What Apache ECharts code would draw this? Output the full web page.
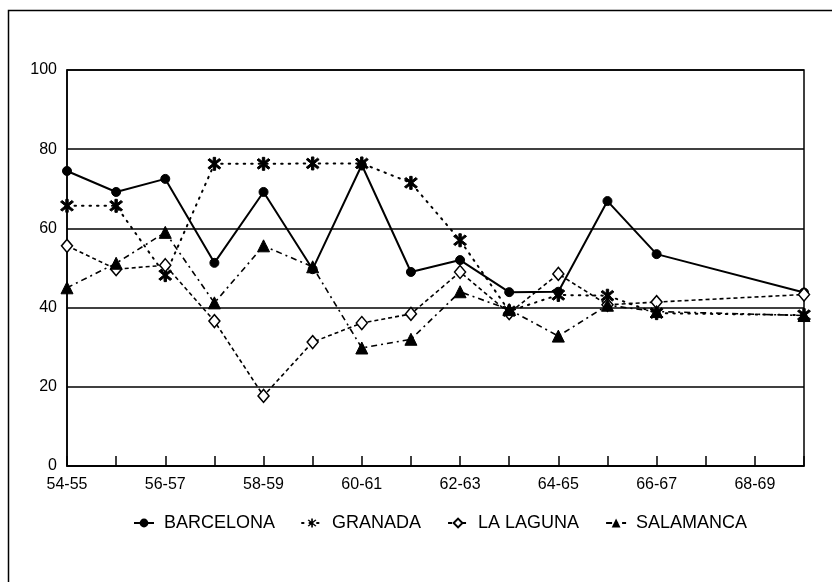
<!DOCTYPE html>
<html>
<head>
<meta charset="utf-8">
<script src="https://cdn.jsdelivr.net/npm/echarts@6/dist/echarts.min.js"></script>
<style>html,body{margin:0;padding:0;background:#fff}#c{width:832px;height:582px}</style>
</head>
<body>
<div id="c"></div>
<script>
var categories = ['54-55','55-56','56-57','57-58','58-59','59-60','60-61','61-62','62-63','63-64','64-65','65-66','66-67','67-68','68-69','69-70'];
var barcelona = [74.5, 69.2, 72.5, 51.3, 69.2, 49.7, 76, 49, 52, 43.9, 44, 66.9, 53.5, null, null, 43.8];
var granada   = [65.7, 65.7, 48.2, 76.3, 76.3, 76.4, 76.4, 71.5, 57, 39.1, 43.2, 43, 38.6, null, null, 38.1];
var laLaguna  = [55.6, 49.7, 50.7, 36.6, 17.7, 31.3, 36.1, 38.4, 49, 38.6, 48.5, 40.7, 41.4, null, null, 43.3];
var salamanca = [45, 51.2, 59, 41.2, 55.6, 50.3, 29.8, 32, 44, 39.5, 32.8, 40.6, 39, null, null, 38];
var yTicks = [0, 20, 40, 60, 80, 100];

var starPath = 'path://M-1.5,-10L1.5,-10L1.5,10L-1.5,10Z' +
  'M-8.13,-6.01L-6.01,-8.13L8.13,6.01L6.01,8.13Z' +
  'M-6.01,8.13L-8.13,6.01L6.01,-8.13L8.13,-6.01Z';

var chart = echarts.init(document.getElementById('c'), null, {renderer: 'canvas'});
var font = '"Liberation Sans", Arial, sans-serif';
chart.setOption({
  animation: false,
  backgroundColor: '#fff',
  graphic: [{
    type: 'rect', left: 6, top: 8,
    shape: {x: 0, y: 0, width: 900, height: 700},
    style: {fill: 'none', stroke: '#000', lineWidth: 1.5},
    silent: true
  }],
  grid: {left: 67, right: 28, top: 70, bottom: 116, show: true, borderColor: '#000', borderWidth: 1.5, backgroundColor: 'transparent'},
  legend: {
    left: 128, top: 509,
    itemWidth: 20, itemHeight: 11, itemGap: 26,
    textStyle: {fontFamily: font, fontSize: 18, color: '#000', padding: [0, 0, 0, 5]},
    data: ['BARCELONA', 'GRANADA', 'LA LAGUNA', 'SALAMANCA']
  },
  xAxis: {
    type: 'category', data: categories, boundaryGap: false,
    axisLine: {lineStyle: {color: '#000', width: 1.5}},
    axisTick: {show: true, inside: true, length: 10, interval: 0, lineStyle: {color: '#000', width: 1.5}},
    axisLabel: {interval: 1, color: '#000', fontFamily: font, fontSize: 16, margin: 11},
    splitLine: {show: false}
  },
  yAxis: {
    type: 'value', min: yTicks[0], max: yTicks[yTicks.length - 1], interval: 20,
    axisLine: {show: true, lineStyle: {color: '#000', width: 1.5}},
    axisTick: {show: false},
    axisLabel: {color: '#000', fontFamily: font, fontSize: 16, margin: 10},
    splitLine: {show: true, lineStyle: {color: '#000', width: 1.5}}
  },
  series: [
    {
      name: 'BARCELONA', type: 'line', data: barcelona, connectNulls: true,
      symbol: 'circle', symbolSize: 9,
      lineStyle: {color: '#000', width: 2, type: 'solid'},
      itemStyle: {color: '#000', borderColor: '#000'}
    },
    {
      name: 'GRANADA', type: 'line', data: granada, connectNulls: true,
      symbol: starPath, symbolSize: 13,
      lineStyle: {color: '#000', width: 2, type: [1.5, 6], cap: 'round'},
      itemStyle: {color: '#000', borderColor: '#000'}
    },
    {
      name: 'LA LAGUNA', type: 'line', data: laLaguna, connectNulls: true,
      symbol: 'diamond', symbolSize: [11, 13],
      lineStyle: {color: '#000', width: 1.6, type: [4, 3]},
      itemStyle: {color: '#fff', borderColor: '#000', borderWidth: 1.5}
    },
    {
      name: 'SALAMANCA', type: 'line', data: salamanca, connectNulls: true,
      symbol: 'triangle', symbolSize: 12,
      lineStyle: {color: '#000', width: 1.6, type: [6, 4, 2, 4]},
      itemStyle: {color: '#000', borderColor: '#000'}
    }
  ]
});
</script>
</body>
</html>
